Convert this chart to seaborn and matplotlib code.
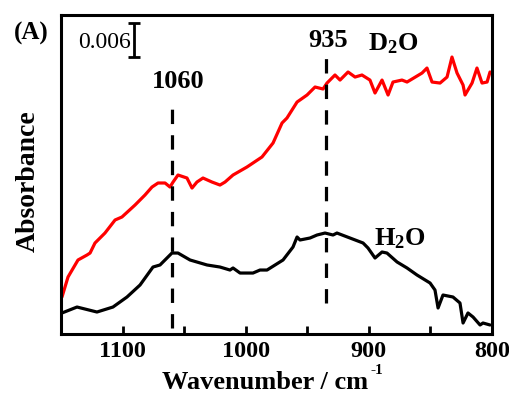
import matplotlib
matplotlib.use("Agg")
import matplotlib.pyplot as plt
import seaborn as sns
import pandas as pd
from matplotlib.ticker import MultipleLocator

# Spektren (Wellenzahl / cm-1, Absorbanz)
d2o_wn = [1149.2, 1144.3, 1136.2, 1128.9, 1126.4, 1122.4, 1114.3, 1106.1, 1100.5, 1089.9,
          1081.8, 1076.1, 1071.2, 1065.5, 1061.5, 1059.0, 1055.0, 1047.7, 1043.6, 1039.6,
          1034.7, 1027.4, 1020.9, 1016.8, 1010.3, 999.0, 986.8, 977.8, 970.5, 966.5,
          958.3, 950.2, 943.7, 937.2, 934.0, 927.5, 923.4, 916.9, 911.2, 905.6,
          899.1, 895.0, 889.3, 884.4, 880.4, 873.1, 869.0, 856.8, 852.8, 848.7,
          842.2, 836.5, 832.5, 828.4, 823.5, 821.9, 816.2, 812.2, 808.1, 804.0,
          801.6]
d2o_abs = [0.00653, 0.01006, 0.01306, 0.01394, 0.01429, 0.01606, 0.01782, 0.02012, 0.02065, 0.02276,
           0.02453, 0.02594, 0.02665, 0.02665, 0.02594, 0.02682, 0.02806, 0.02753, 0.02576, 0.02682,
           0.02753, 0.02682, 0.02629, 0.02682, 0.02806, 0.02947, 0.03124, 0.03371, 0.03724, 0.03812,
           0.04094, 0.04218, 0.04359, 0.04324, 0.04429, 0.04571, 0.04482, 0.04624, 0.04535, 0.04571,
           0.04482, 0.04253, 0.04482, 0.04218, 0.04447, 0.04482, 0.04447, 0.04606, 0.04694, 0.04447,
           0.04429, 0.04535, 0.04888, 0.04606, 0.04394, 0.04218, 0.04429, 0.04694, 0.04429, 0.04447,
           0.04624]

h2o_wn = [1149.2, 1137.0, 1120.8, 1107.8, 1096.4, 1085.8, 1075.3, 1069.6, 1059.9, 1055.0,
          1045.2, 1031.4, 1020.9, 1012.8, 1010.3, 1004.6, 994.1, 988.4, 982.7, 969.7,
          961.6, 958.3, 955.9, 947.8, 942.1, 935.6, 929.1, 925.9, 915.3, 904.7,
          900.7, 895.0, 889.3, 885.3, 877.1, 869.0, 860.9, 850.3, 846.3, 843.8,
          839.8, 831.7, 826.0, 823.5, 819.5, 815.4, 809.7, 807.3, 801.6]
h2o_abs = [0.00371, 0.00476, 0.00388, 0.00476, 0.00653, 0.00865, 0.01182, 0.01218, 0.01429, 0.01429,
           0.01306, 0.01218, 0.01182, 0.01129, 0.01165, 0.01076, 0.01076, 0.01129, 0.01129, 0.01306,
           0.01535, 0.01712, 0.01659, 0.01694, 0.01747, 0.01782, 0.01747, 0.01782, 0.01694, 0.01606,
           0.01518, 0.01341, 0.01447, 0.01429, 0.01271, 0.01165, 0.01041, 0.00900, 0.00776, 0.00459,
           0.00688, 0.00653, 0.00547, 0.00194, 0.00371, 0.00300, 0.00159, 0.00194, 0.00159]

# markierte Banden
peak_wn = [1060, 935]
peak_labels = ["1060", "935"]
peak_line_top = [0.0399, 0.0496]
peak_line_bottom = [0.0011, 0.0055]

xticks_major = [1100, 1000, 900, 800]

sns.set_style("ticks")
plt.rcParams["font.family"] = ["Liberation Serif", "DejaVu Serif"]
plt.rcParams["mathtext.default"] = "regular"
plt.rcParams["text.color"] = "black"
plt.rcParams["xtick.color"] = "black"
plt.rcParams["axes.edgecolor"] = "black"

df_d2o = pd.DataFrame({"wn": d2o_wn, "A": d2o_abs})
df_h2o = pd.DataFrame({"wn": h2o_wn, "A": h2o_abs})

fig = plt.figure(figsize=(5.10, 3.94), dpi=100)
ax = fig.add_axes([61 / 510, 1 - 334 / 394, 431 / 510, 319 / 394])

sns.lineplot(data=df_d2o, x="wn", y="A", color="#ff0000", lw=2.3, sort=False, ax=ax)
sns.lineplot(data=df_h2o, x="wn", y="A", color="black", lw=2.3, sort=False, ax=ax)

# gestrichelte Linien
for wn, top, bot in zip(peak_wn, peak_line_top, peak_line_bottom):
    ax.plot([wn, wn], [bot, top], color="black", lw=2.3, ls=(0, (4.5, 3.5)))

ax.set_xlim(1150, 800)
ax.set_ylim(0, 0.0563)
ax.set_xticks(xticks_major)
ax.xaxis.set_minor_locator(MultipleLocator(50))
ax.set_yticks([])
ax.tick_params(axis="x", which="both", direction="in", length=6, width=2,
               labelsize=17.5, pad=5, colors="black")
for lab in ax.get_xticklabels():
    lab.set_fontweight("bold")
for sp in ax.spines.values():
    sp.set_linewidth(2.2)
    sp.set_color("black")
ax.set_xlabel("")
ax.set_ylabel("")

# Beschriftungen
ax.text(1055, 0.0434, peak_labels[0], fontsize=19, fontweight="bold", ha="center", va="baseline")
ax.text(933, 0.0506, peak_labels[1], fontsize=19, fontweight="bold", ha="center", va="baseline")
ax.text(880, 0.0501, "D$_2$O", fontsize=19, fontweight="bold", ha="center", va="baseline")
ax.text(875, 0.0157, "H$_2$O", fontsize=19, fontweight="bold", ha="center", va="baseline")

# Skalenbalken 0.006
ax.errorbar([1090.7], [0.05188], yerr=[0.003], color="black", capsize=4, elinewidth=2, capthick=2)
ax.text(1093.0, 0.05047, "0.006", fontsize=17, ha="right", va="baseline")

fig.text(31 / 510, 1 - 40 / 394, "(A)", fontsize=18, fontweight="bold", ha="center", va="baseline")
fig.text(28 / 510, 1 - 181 / 394, "Absorbance", fontsize=20, fontweight="bold",
         rotation=90, ha="center", va="center")
fig.text(368 / 510, 1 - 389 / 394, "Wavenumber / cm", fontsize=19, fontweight="bold",
         ha="right", va="baseline")
fig.text(371 / 510, 1 - 374 / 394, "-1", fontsize=11, fontweight="bold",
         ha="left", va="baseline")

fig.savefig("out.png", dpi=100)
